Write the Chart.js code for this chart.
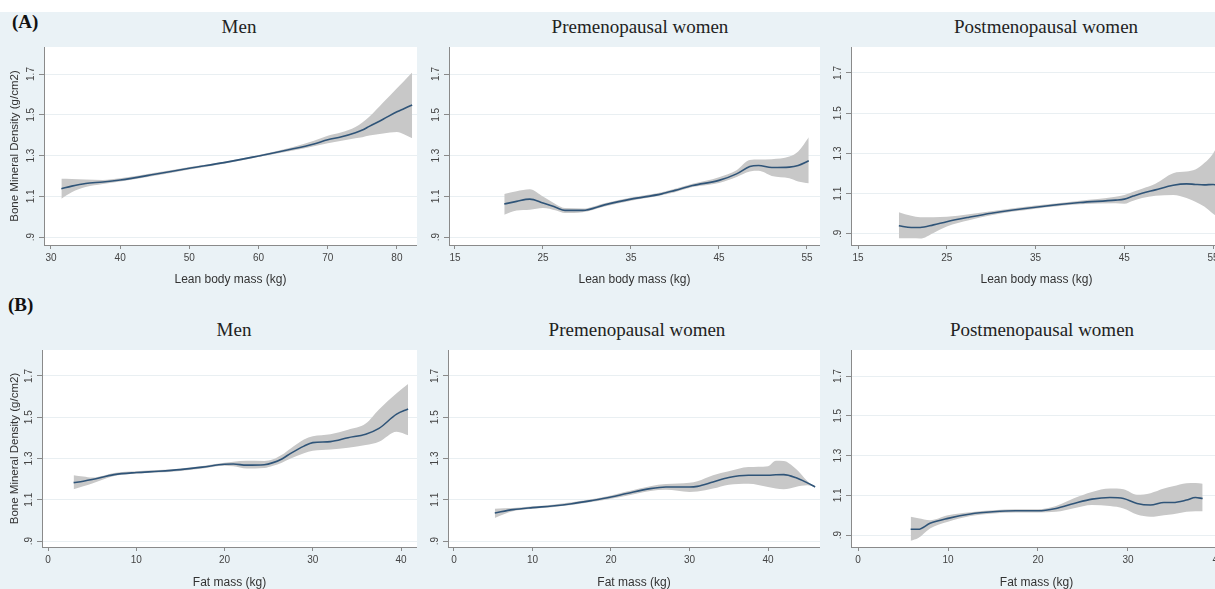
<!DOCTYPE html>
<html>
<head>
<meta charset="utf-8">
<title>Bone mineral density by lean and fat mass</title>
<script src="https://cdn.jsdelivr.net/npm/chart.js@4.4.1/dist/chart.umd.min.js"></script>
<style>
  html, body { margin: 0; padding: 0; }
  body {
    width: 1215px; height: 589px; overflow: hidden; position: relative;
    background: #eaf2f6;
    font-family: 'Liberation Sans', Arial, sans-serif;
  }
  canvas { position: absolute; }
  .top-strip { position: absolute; left: 0; top: 0; width: 1215px; height: 12px; background: #ffffff; }
  .panel-title {
    position: absolute; width: 300px; text-align: center; line-height: 22px;
    font-family: 'Liberation Serif', 'Times New Roman', serif; font-size: 19px; color: #222;
  }
  .row-label {
    position: absolute; line-height: 22px;
    font-family: 'Liberation Serif', 'Times New Roman', serif; font-size: 19px; font-weight: bold; color: #111;
  }
</style>
</head>
<body>
<div class="top-strip"></div>
<div class="row-label" style="left:12px; top:11px">(A)</div>
<div class="row-label" style="left:8px; top:294px">(B)</div>
<div class="panel-title" style="left:89px; top:16px">Men</div>
<div class="panel-title" style="left:490px; top:16px">Premenopausal women</div>
<div class="panel-title" style="left:896px; top:16px">Postmenopausal women</div>
<div class="panel-title" style="left:84px; top:319px">Men</div>
<div class="panel-title" style="left:487px; top:319px">Premenopausal women</div>
<div class="panel-title" style="left:892px; top:319px">Postmenopausal women</div>

<script>
const bmdTicks = [0.9, 1.1, 1.3, 1.5, 1.7];
const bmdTickLabels = ['.9', '1.1', '1.3', '1.5', '1.7'];
const leanMenTicks = [30, 40, 50, 60, 70, 80];
const leanWomenTicks = [15, 25, 35, 45, 55];
const fatTicks = [0, 10, 20, 30, 40];

// (A) lean body mass, men
const menLeanX = [31.5, 33, 35, 37.5, 40, 45, 50, 55, 60, 65, 68, 70, 72, 74, 75, 76, 78, 80, 81, 82.2];
const menLeanFit = [1.137, 1.15, 1.163, 1.17, 1.18, 1.208, 1.238, 1.265, 1.298, 1.333, 1.357, 1.377, 1.392, 1.412, 1.425, 1.443, 1.478, 1.515, 1.53, 1.548];
const menLeanLow = [1.088, 1.12, 1.145, 1.16, 1.172, 1.201, 1.232, 1.26, 1.293, 1.325, 1.346, 1.36, 1.372, 1.385, 1.39, 1.398, 1.408, 1.416, 1.405, 1.385];
const menLeanHigh = [1.186, 1.185, 1.182, 1.18, 1.188, 1.215, 1.244, 1.27, 1.303, 1.342, 1.372, 1.397, 1.414, 1.44, 1.462, 1.49, 1.56, 1.63, 1.665, 1.707];

// (A) lean body mass, premenopausal women
const preLeanX = [20.6, 22, 23.5, 25, 26.5, 27.5, 29.5, 32, 35, 38.5, 40, 42, 45, 47, 48.5, 49.5, 51, 53, 54, 55.2];
const preLeanFit = [1.062, 1.075, 1.086, 1.067, 1.045, 1.031, 1.031, 1.058, 1.086, 1.112, 1.129, 1.153, 1.178, 1.21, 1.246, 1.251, 1.241, 1.243, 1.251, 1.274];
const preLeanLow = [1.009, 1.03, 1.034, 1.042, 1.03, 1.018, 1.022, 1.05, 1.078, 1.105, 1.12, 1.145, 1.165, 1.195, 1.222, 1.225, 1.2, 1.189, 1.173, 1.164];
const preLeanHigh = [1.111, 1.125, 1.135, 1.099, 1.06, 1.042, 1.04, 1.066, 1.094, 1.12, 1.137, 1.161, 1.194, 1.228, 1.278, 1.28, 1.282, 1.295, 1.32, 1.39];

// (A) lean body mass, postmenopausal women
const postLeanX = [19.6, 21, 22, 23.5, 25, 27.5, 30, 35, 40, 44, 45, 46, 47, 48.5, 50.5, 52, 53, 54, 55, 55.6];
const postLeanFit = [0.941, 0.932, 0.932, 0.945, 0.961, 0.983, 1.003, 1.033, 1.056, 1.068, 1.073, 1.088, 1.102, 1.119, 1.142, 1.149, 1.146, 1.144, 1.146, 1.142];
const postLeanLow = [0.878, 0.878, 0.877, 0.905, 0.937, 0.968, 0.993, 1.025, 1.047, 1.052, 1.05, 1.065, 1.078, 1.09, 1.094, 1.078, 1.06, 1.036, 1.0, 0.98];
const postLeanHigh = [1.008, 0.99, 0.983, 0.983, 0.985, 0.998, 1.013, 1.041, 1.065, 1.085, 1.094, 1.11, 1.125, 1.15, 1.202, 1.21, 1.22, 1.252, 1.3, 1.35];

// (B) fat mass, men
const menFatX = [2.9, 4, 5, 7.5, 10, 12.5, 15, 17.5, 20, 21, 22.5, 24.5, 25.5, 26.5, 27.5, 29, 30, 32, 34, 36, 37.5, 39.5, 40.8];
const menFatFit = [1.183, 1.19, 1.198, 1.222, 1.232, 1.238, 1.246, 1.258, 1.272, 1.273, 1.268, 1.27, 1.28, 1.298, 1.325, 1.36, 1.377, 1.382, 1.401, 1.418, 1.446, 1.515, 1.54];
const menFatLow = [1.151, 1.165, 1.179, 1.215, 1.226, 1.232, 1.24, 1.252, 1.265, 1.262, 1.251, 1.254, 1.265, 1.28, 1.3, 1.325, 1.337, 1.344, 1.352, 1.365, 1.381, 1.43, 1.413];
const menFatHigh = [1.219, 1.213, 1.208, 1.23, 1.238, 1.244, 1.252, 1.264, 1.279, 1.284, 1.289, 1.288, 1.296, 1.318, 1.349, 1.392, 1.408, 1.418, 1.44, 1.47, 1.538, 1.616, 1.661];

// (B) fat mass, premenopausal women
const preFatX = [5.2, 7.5, 10, 12.5, 15, 17.5, 20, 22, 25, 27, 30, 31, 33, 35, 37.5, 40, 41, 42, 43.5, 45, 46];
const preFatFit = [1.036, 1.052, 1.062, 1.07, 1.081, 1.096, 1.113, 1.13, 1.154, 1.162, 1.162, 1.165, 1.186, 1.208, 1.219, 1.219, 1.221, 1.222, 1.208, 1.182, 1.162];
const preFatLow = [1.012, 1.044, 1.056, 1.064, 1.074, 1.089, 1.105, 1.12, 1.143, 1.148, 1.138, 1.14, 1.154, 1.173, 1.178, 1.162, 1.154, 1.151, 1.162, 1.17, 1.162];
const preFatHigh = [1.057, 1.06, 1.068, 1.076, 1.088, 1.103, 1.121, 1.14, 1.166, 1.176, 1.182, 1.19, 1.219, 1.238, 1.259, 1.263, 1.289, 1.288, 1.251, 1.191, 1.162];

// (B) fat mass, postmenopausal women
const postFatX = [5.85, 6.7, 8, 10, 12.5, 15, 17.5, 20, 22, 24, 26, 28, 29.5, 31, 32.5, 34, 35, 36.5, 37.5, 38.3];
const postFatFit = [0.929, 0.929, 0.959, 0.984, 1.006, 1.017, 1.022, 1.022, 1.034, 1.059, 1.081, 1.089, 1.084, 1.059, 1.051, 1.064, 1.064, 1.076, 1.089, 1.084];
const postFatLow = [0.871, 0.885, 0.933, 0.967, 0.996, 1.009, 1.014, 1.014, 1.017, 1.035, 1.051, 1.046, 1.034, 1.003, 0.992, 1.0, 1.005, 1.017, 1.02, 1.02];
const postFatHigh = [0.992, 0.985, 0.975, 1.0, 1.015, 1.025, 1.03, 1.03, 1.046, 1.085, 1.117, 1.134, 1.13, 1.103, 1.111, 1.134, 1.145, 1.161, 1.162, 1.158];

Chart.defaults.font.family = "'Liberation Sans', Arial, sans-serif";

const AXIS_GRAY = '#8a8a8a';

// white plot region
const plotBackground = {
  id: 'plotBackground',
  beforeDraw: function(chart) {
    const a = chart.chartArea;
    const ctx = chart.ctx;
    ctx.save();
    ctx.fillStyle = '#ffffff';
    ctx.fillRect(a.left, a.top, a.right - a.left, a.bottom - a.top);
    ctx.restore();
  }
};

function toPoints(xs, ys) {
  return xs.map(function(x, i) { return { x: x, y: ys[i] }; });
}

function makePanel(p) {
  const top = p.top - 7;
  const width = p.right - p.canvasLeft;
  const height = p.bottom + 45 - top;
  const yWidth = p.left - p.canvasLeft;

  const canvas = document.createElement('canvas');
  canvas.width = width;
  canvas.height = height;
  canvas.style.left = p.canvasLeft + 'px';
  canvas.style.top = top + 'px';
  canvas.style.width = width + 'px';
  canvas.style.height = height + 'px';
  document.body.appendChild(canvas);

  new Chart(canvas, {
    type: 'line',
    data: {
      datasets: [
        {
          data: toPoints(p.x, p.fit),
          borderColor: '#2f5478',
          borderWidth: 1.6,
          pointRadius: 0,
          fill: false
        },
        {
          data: toPoints(p.x, p.high),
          borderColor: 'rgba(0,0,0,0)',
          borderWidth: 0,
          pointRadius: 0,
          backgroundColor: '#c8c8c8',
          fill: '+1'
        },
        {
          data: toPoints(p.x, p.low),
          borderColor: 'rgba(0,0,0,0)',
          borderWidth: 0,
          pointRadius: 0,
          fill: false
        }
      ]
    },
    options: {
      responsive: false,
      animation: false,
      devicePixelRatio: 1,
      layout: { padding: { top: 7, left: 0, right: 0, bottom: 0 } },
      elements: { line: { cubicInterpolationMode: 'monotone' } },
      plugins: {
        legend: { display: false },
        tooltip: { enabled: false }
      },
      scales: {
        x: {
          type: 'linear',
          min: p.xMin,
          max: p.xMax,
          afterBuildTicks: function(scale) {
            scale.ticks = p.xTicks.map(function(v) { return { value: v }; });
          },
          afterFit: function(scale) {
            scale.height = 45;
            scale.paddingLeft = 0;
            scale.paddingRight = 0;
          },
          grid: { drawOnChartArea: false, tickLength: 4, tickColor: AXIS_GRAY },
          border: { color: AXIS_GRAY, width: 1 },
          ticks: {
            font: { size: 10 },
            color: '#444',
            padding: 3,
            maxRotation: 0,
            autoSkip: false,
            callback: function(value) { return String(value); }
          },
          title: {
            display: true,
            text: p.xTitle,
            font: { size: 12 },
            color: '#333',
            padding: { top: 0, bottom: p.xTitlePad }
          }
        },
        y: {
          type: 'linear',
          min: p.yMin,
          max: p.yMax,
          afterBuildTicks: function(scale) {
            scale.ticks = bmdTicks.map(function(v) { return { value: v }; });
          },
          afterFit: function(scale) {
            scale.width = yWidth;
            scale.paddingTop = 0;
            scale.paddingBottom = 0;
          },
          grid: { color: '#e9eff2', tickLength: 5, tickColor: AXIS_GRAY },
          border: { color: AXIS_GRAY, width: 1 },
          ticks: {
            font: { size: 10 },
            color: '#444',
            padding: 1,
            minRotation: 90,
            maxRotation: 90,
            crossAlign: 'center',
            autoSkip: false,
            callback: function(value, index) { return bmdTickLabels[index]; }
          },
          title: {
            display: p.showYTitle,
            text: 'Bone Mineral Density (g/cm2)',
            font: { size: 11.5 },
            color: '#333',
            padding: { top: 8, bottom: 0 }
          }
        }
      }
    },
    plugins: [plotBackground]
  });
}

const panels = [
  { canvasLeft: 0, left: 44, right: 417, top: 47, bottom: 245, xMin: 28.99, xMax: 82.9, yMin: 0.861, yMax: 1.8325,
    xTicks: leanMenTicks, xTitle: 'Lean body mass (kg)', xTitlePad: 2.8, showYTitle: true,
    x: menLeanX, fit: menLeanFit, low: menLeanLow, high: menLeanHigh },
  { canvasLeft: 420, left: 449, right: 820, top: 47, bottom: 245, xMin: 14.32, xMax: 56.48, yMin: 0.861, yMax: 1.8325,
    xTicks: leanWomenTicks, xTitle: 'Lean body mass (kg)', xTitlePad: 2.8, showYTitle: false,
    x: preLeanX, fit: preLeanFit, low: preLeanLow, high: preLeanHigh },
  { canvasLeft: 822, left: 851, right: 1222, top: 47, bottom: 245, xMin: 14.21, xMax: 56.0, yMin: 0.845, yMax: 1.829,
    xTicks: leanWomenTicks, xTitle: 'Lean body mass (kg)', xTitlePad: 2.8, showYTitle: false,
    x: postLeanX, fit: postLeanFit, low: postLeanLow, high: postLeanHigh },
  { canvasLeft: 0, left: 42, right: 417, top: 350, bottom: 547, xMin: -0.68, xMax: 41.81, yMin: 0.871, yMax: 1.826,
    xTicks: fatTicks, xTitle: 'Fat mass (kg)', xTitlePad: 1.8, showYTitle: true,
    x: menFatX, fit: menFatFit, low: menFatLow, high: menFatHigh },
  { canvasLeft: 420, left: 448, right: 820, top: 350, bottom: 547, xMin: -0.76, xMax: 46.62, yMin: 0.871, yMax: 1.826,
    xTicks: fatTicks, xTitle: 'Fat mass (kg)', xTitlePad: 1.8, showYTitle: false,
    x: preFatX, fit: preFatFit, low: preFatLow, high: preFatHigh },
  { canvasLeft: 822, left: 851, right: 1222, top: 350, bottom: 547, xMin: -0.78, xMax: 40.45, yMin: 0.84, yMax: 1.831,
    xTicks: fatTicks, xTitle: 'Fat mass (kg)', xTitlePad: 1.8, showYTitle: false,
    x: postFatX, fit: postFatFit, low: postFatLow, high: postFatHigh }
];

panels.forEach(makePanel);
</script>
</body>
</html>
